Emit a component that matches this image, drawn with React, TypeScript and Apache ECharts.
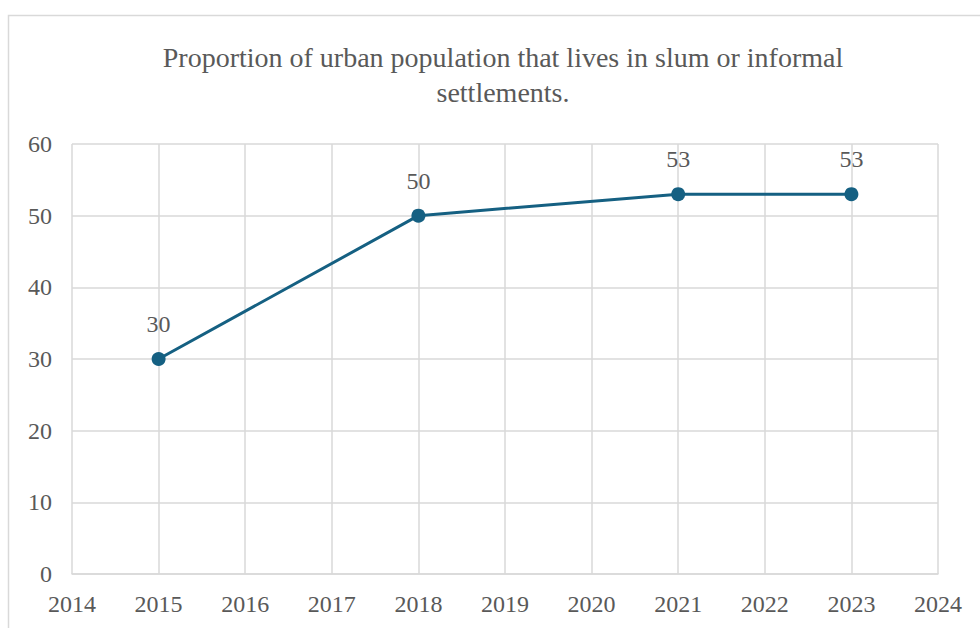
import React, { useEffect, useRef } from "react";
import * as echarts from "echarts";

const titleText = "Proportion of urban population that lives in slum or informal\nsettlements.";
const years = [2015, 2018, 2021, 2023];
const values = [30, 50, 53, 53];
const xRange = [2014, 2024];
const yRange = [0, 60];

export default function App() {
  const ref = useRef<HTMLDivElement>(null);
  useEffect(() => {
    if (!ref.current) return;
    const chart = echarts.init(ref.current, null, { renderer: "svg" });
    const font = "'Liberation Serif', 'Times New Roman', serif";
    const gray = "#595959";
    const gridColor = "#d9d9d9";
    chart.setOption({
      animation: false,
      backgroundColor: "#ffffff",
      graphic: [
        {
          type: "rect",
          shape: { x: 8.5, y: 15.5, width: 1000, height: 700 },
          style: { fill: "none", stroke: gridColor, lineWidth: 1.5 },
          silent: true,
        },
        {
          type: "text",
          x: 503,
          y: 40,
          silent: true,
          style: {
            text: titleText,
            align: "center",
            verticalAlign: "top",
            fontFamily: font,
            fontSize: 28,
            lineHeight: 35,
            fill: gray,
          },
        },
      ],
      grid: { left: 72, right: 42, top: 144, bottom: 54 },
      xAxis: {
        type: "value",
        min: xRange[0],
        max: xRange[1],
        interval: 1,
        axisLine: { show: true, lineStyle: { color: gridColor, width: 1.5 } },
        axisTick: { show: false },
        splitLine: { show: true, lineStyle: { color: gridColor, width: 1.5 } },
        axisLabel: {
          fontFamily: font,
          fontSize: 24,
          color: gray,
          margin: 18,
          formatter: (v: number) => String(v),
        },
      },
      yAxis: {
        type: "value",
        min: yRange[0],
        max: yRange[1],
        interval: 10,
        axisLine: { show: false },
        axisTick: { show: false },
        splitLine: { show: true, lineStyle: { color: gridColor, width: 1.5 } },
        axisLabel: {
          fontFamily: font,
          fontSize: 24,
          color: gray,
          margin: 20,
        },
      },
      series: [
        {
          type: "line",
          data: years.map((y, i) => [y, values[i]]),
          lineStyle: { color: "#156082", width: 3 },
          itemStyle: { color: "#156082" },
          symbol: "circle",
          symbolSize: 14,
          label: {
            show: true,
            position: "top",
            distance: 16,
            fontFamily: font,
            fontSize: 24,
            color: gray,
            formatter: (p: any) => String(p.value[1]),
          },
        },
      ],
    });
    return () => chart.dispose();
  }, []);
  return (
    <div
      ref={ref}
      style={{ position: "fixed", left: 0, top: 0, width: 980, height: 628 }}
    />
  );
}
